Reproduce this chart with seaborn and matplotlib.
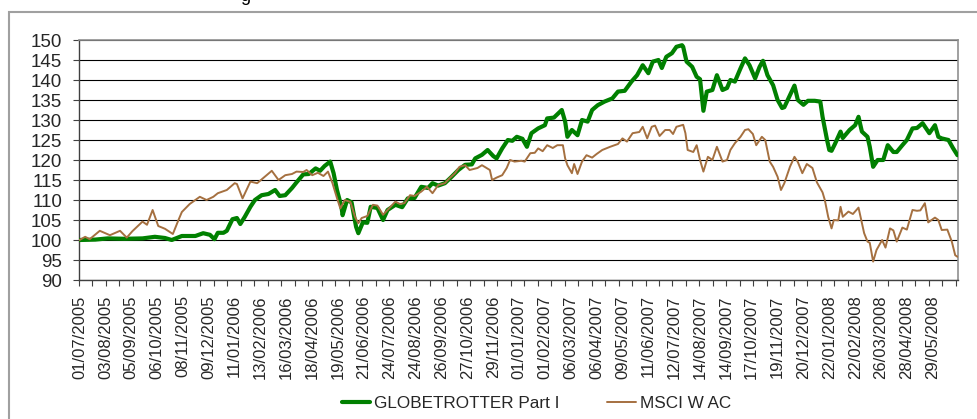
import numpy as np
import pandas as pd
import seaborn as sns
import matplotlib.pyplot as plt
from matplotlib.patches import Rectangle
from matplotlib.ticker import FixedLocator

# Business-day index (0 = 01/07/2005 ... 781 = 30/06/2008) and index level,
# read off the reference chart
GLOBE_DAY = [0, 14, 25, 40, 56, 67, 76, 82, 91, 103, 110, 116, 120, 123, 128,
             131, 136, 140, 143, 147, 152, 156, 162, 168, 174, 178, 183, 189,
             193, 199, 204, 210, 214, 218, 223, 226, 229, 233, 234, 238, 242,
             246, 248, 252, 256, 259, 265, 270, 274, 281, 287, 292, 298, 304,
             310, 314, 319, 325, 331, 337, 343, 349, 352, 358, 363, 368, 371,
             376, 381, 385, 389, 394, 398, 402, 408, 414, 416, 422, 429, 432,
             434, 438, 443, 447, 452, 456, 461, 467, 474, 479, 485, 491, 496,
             501, 506, 510, 515, 518, 522, 527, 531, 536, 537, 540, 545, 549,
             552, 555, 558, 563, 567, 572, 576, 579, 583, 588, 592, 596, 601,
             605, 608, 612, 617, 621, 625, 627, 632, 636, 639, 644, 648, 654,
             659, 661, 665, 667, 669, 672, 677, 679, 685, 690, 693, 696, 701,
             703, 706, 710, 715, 719, 724, 727, 732, 736, 741, 745, 750, 756,
             761, 764, 767, 773, 777, 781]
GLOBE_VAL = [100.0, 100.1, 100.4, 100.3, 100.4, 100.8, 100.5, 100.0, 101.0,
             101.0, 101.7, 101.3, 100.2, 101.8, 101.8, 102.3, 105.2, 105.5,
             104.0, 105.8, 108.3, 110.0, 111.2, 111.5, 112.5, 111.0, 111.2,
             113.0, 114.4, 116.4, 116.5, 117.9, 117.3, 118.5, 119.6, 116.7,
             112.5, 108.3, 106.2, 110.0, 109.4, 103.3, 101.7, 104.4, 104.3,
             108.3, 108.0, 105.0, 107.5, 108.8, 108.2, 110.4, 110.5, 113.3,
             113.0, 114.2, 113.6, 114.2, 115.8, 117.5, 118.8, 118.9, 120.4,
             121.3, 122.5, 121.0, 120.4, 122.9, 125.0, 124.8, 125.8, 125.3,
             123.3, 126.7, 127.9, 128.7, 130.4, 130.6, 132.5, 129.6, 125.8,
             127.5, 126.2, 130.0, 129.6, 132.5, 133.7, 134.6, 135.4, 137.1,
             137.3, 139.6, 141.2, 143.7, 141.7, 144.6, 145.0, 143.0, 145.8,
             146.7, 148.3, 148.7, 148.3, 144.6, 143.3, 140.8, 140.2, 132.3,
             137.1, 137.5, 141.2, 137.5, 138.0, 140.0, 139.6, 142.9, 145.4,
             143.7, 140.4, 143.3, 144.8, 141.2, 138.7, 135.0, 133.0, 133.2,
             136.2, 138.6, 135.0, 133.8, 134.8, 134.8, 134.6, 130.8, 125.0,
             122.5, 122.3, 124.0, 127.1, 125.5, 127.5, 128.7, 130.8, 127.1,
             125.8, 123.3, 118.3, 120.0, 120.0, 123.7, 122.0, 122.0, 123.7,
             125.0, 127.9, 128.0, 129.2, 126.7, 128.7, 125.8, 125.4, 125.0,
             123.0, 121.2]

MSCI_DAY = [0, 5, 9, 18, 27, 36, 42, 47, 56, 60, 65, 70, 76, 83, 88, 91, 98,
            107, 113, 119, 123, 131, 138, 140, 145, 152, 158, 163, 171, 177,
            183, 189, 193, 199, 202, 207, 212, 217, 221, 225, 229, 232, 236,
            241, 245, 248, 251, 256, 261, 265, 270, 274, 281, 285, 289, 294,
            298, 304, 309, 314, 319, 325, 329, 334, 338, 343, 347, 354, 358,
            362, 365, 367, 371, 376, 380, 383, 387, 393, 396, 401, 405, 408,
            412, 416, 421, 425, 430, 432, 434, 438, 440, 443, 447, 451, 456,
            460, 465, 472, 479, 483, 487, 492, 498, 501, 505, 509, 512, 516,
            521, 525, 528, 531, 537, 539, 541, 546, 549, 552, 555, 559, 563,
            567, 572, 576, 579, 583, 588, 592, 595, 599, 602, 607, 610, 614,
            617, 621, 624, 627, 632, 636, 639, 643, 647, 652, 656, 661, 663,
            666, 669, 671, 675, 677, 679, 684, 688, 693, 696, 698, 701, 703,
            706, 709, 714, 717, 721, 724, 727, 732, 736, 741, 745, 748, 752,
            755, 761, 764, 767, 772, 776, 779, 781]
MSCI_VAL = [100.0, 100.8, 100.2, 102.3, 101.2, 102.3, 100.6, 102.2, 104.6,
            103.8, 107.5, 103.5, 102.8, 101.5, 105.0, 107.0, 109.0, 110.8,
            110.0, 110.8, 111.7, 112.5, 114.2, 114.0, 110.4, 114.6, 114.2,
            115.4, 117.3, 115.0, 116.2, 116.5, 117.1, 117.0, 117.5, 116.2,
            116.8, 116.0, 117.1, 114.2, 110.5, 107.9, 110.0, 109.5, 105.8,
            104.2, 105.5, 106.0, 108.8, 108.6, 106.3, 107.5, 109.6, 109.0,
            109.2, 111.2, 111.0, 112.1, 113.3, 111.7, 113.7, 114.2, 115.4,
            116.7, 118.3, 118.7, 117.5, 118.0, 118.7, 118.0, 117.5, 115.0,
            115.6, 116.2, 118.0, 120.0, 119.6, 119.8, 119.6, 121.7, 121.8,
            122.9, 122.2, 123.7, 123.0, 123.7, 123.7, 120.4, 118.7, 116.7,
            119.0, 116.5, 119.6, 121.2, 120.6, 121.5, 122.5, 123.3, 124.0,
            125.4, 124.6, 126.7, 127.0, 128.3, 125.4, 128.3, 128.6, 126.0,
            127.5, 127.5, 126.5, 128.3, 128.8, 126.7, 122.5, 122.0, 123.7,
            120.0, 117.1, 120.8, 120.0, 123.3, 119.6, 120.0, 122.5, 124.2,
            125.8, 127.5, 127.7, 126.5, 123.7, 125.8, 125.0, 119.6, 118.3,
            115.8, 112.5, 114.2, 118.3, 120.8, 119.5, 116.7, 119.0, 118.0,
            114.4, 111.9, 110.0, 105.8, 102.9, 105.0, 104.9, 108.3, 105.8,
            107.1, 106.5, 108.1, 104.2, 101.7, 99.6, 99.3, 94.6, 97.5, 100.0,
            98.1, 102.9, 102.4, 99.6, 103.1, 102.6, 107.5, 107.3, 107.4,
            109.2, 104.4, 105.6, 105.0, 102.5, 102.6, 99.6, 96.2, 95.8]

TICK_LABELS = ["01/07/2005", "03/08/2005", "05/09/2005", "06/10/2005",
               "08/11/2005", "09/12/2005", "11/01/2006", "13/02/2006",
               "16/03/2006", "18/04/2006", "19/05/2006", "21/06/2006",
               "24/07/2006", "24/08/2006", "26/09/2006", "27/10/2006",
               "29/11/2006", "01/01/2007", "01/02/2007", "06/03/2007",
               "06/04/2007", "09/05/2007", "11/06/2007", "12/07/2007",
               "14/08/2007", "14/09/2007", "17/10/2007", "19/11/2007",
               "20/12/2007", "22/01/2008", "22/02/2008", "26/03/2008",
               "28/04/2008", "29/05/2008"]

N_DAYS = 782       # business days on the category axis
LABEL_EVERY = 23   # a date label every 23 business days
TICK_EVERY = 12    # tick marks every 12 categories

GREEN = "#008000"
BROWN = "#A57040"

sns.set_theme(style="white")
plt.rcParams["font.family"] = ["Liberation Sans", "DejaVu Sans"]

fig = plt.figure(figsize=(9.77, 4.19), dpi=100)
ax = fig.add_axes([79 / 977, 1 - 280 / 419, (958 - 79) / 977, 240 / 419])

df_g = pd.DataFrame({"day": GLOBE_DAY, "value": GLOBE_VAL})
df_m = pd.DataFrame({"day": MSCI_DAY, "value": MSCI_VAL})

sns.lineplot(data=df_g, x="day", y="value", ax=ax, color=GREEN, lw=3.0,
             label="GLOBETROTTER Part I", zorder=3)
sns.lineplot(data=df_m, x="day", y="value", ax=ax, color=BROWN, lw=1.4,
             label="MSCI W AC", zorder=4)

ax.set_xlim(-0.5, N_DAYS - 0.5)
ax.set_ylim(90, 150)
ax.set_xlabel("")
ax.set_ylabel("")

# y axis
ax.set_yticks(np.arange(90, 151, 5))
ax.yaxis.grid(True, color="black", lw=0.8)
ax.set_axisbelow(True)
ax.tick_params(axis="y", left=True, length=4, width=0.8, color="#404040",
               labelsize=13.5, pad=8)

# x axis: date labels every 23 days, tick marks every 12 categories
ax.set_xticks(np.arange(len(TICK_LABELS)) * LABEL_EVERY)
ax.set_xticklabels(TICK_LABELS, rotation=90, fontsize=12)
ax.tick_params(axis="x", which="major", bottom=True, length=0, pad=11)
ax.xaxis.set_minor_locator(FixedLocator(np.arange(-0.5, N_DAYS, TICK_EVERY)))
ax.tick_params(axis="x", which="minor", bottom=True, length=4, width=0.8,
               color="#404040")

for side in ["left", "bottom"]:
    ax.spines[side].set_color("#404040")
    ax.spines[side].set_linewidth(1.0)
for side in ["top", "right"]:
    ax.spines[side].set_color("#909090")
    ax.spines[side].set_linewidth(1.2)

# legend below the chart
handles, labels = ax.get_legend_handles_labels()
ax.get_legend().remove()
fig.legend(handles, labels, loc="center", bbox_to_anchor=(0.549, 0.038),
           ncol=2, frameon=False, fontsize=12.3, handlelength=1.65,
           handletextpad=0.25, columnspacing=2.8)

# outer chart-area border and the clipped title above it
fig.add_artist(Rectangle((9 / 977, -0.05), 1.0, 1 - 12 / 419 + 0.05,
                         transform=fig.transFigure, fill=False,
                         ec="#a0a0a0", lw=1.5))
fig.text(245 / 977, 1 - 1 / 419, "g", fontsize=13, ha="center",
         va="baseline", color="black")

fig.savefig("out.png", dpi=100)
